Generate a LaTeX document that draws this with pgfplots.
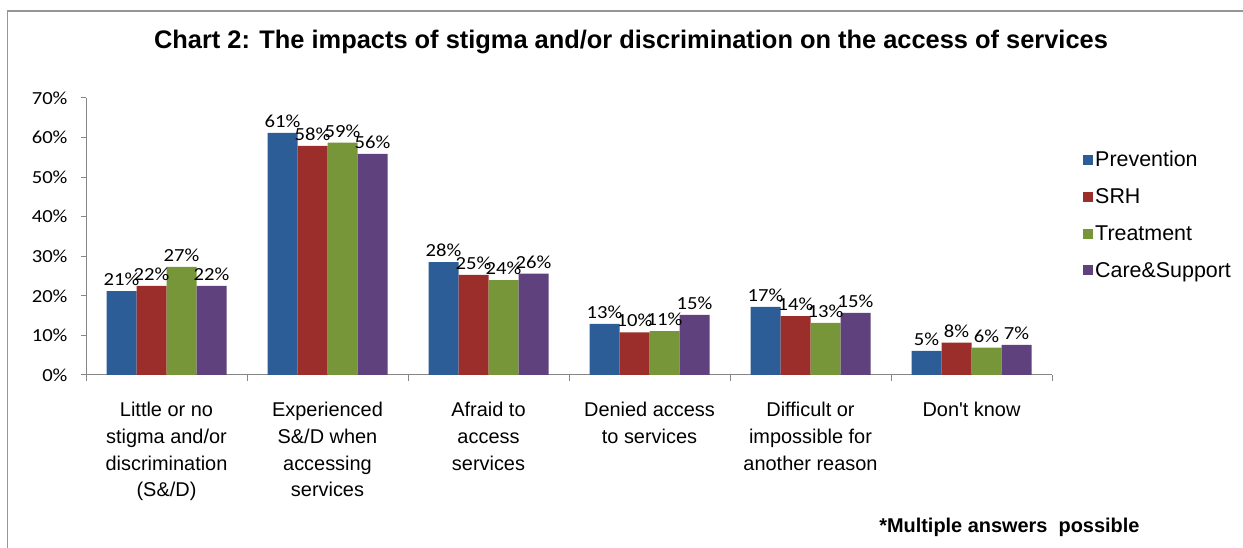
\documentclass[border=0pt]{standalone}
\usepackage{fontspec}
\setmainfont{Liberation Sans}
\newfontfamily\lblfont{Carlito}[FakeStretch=1.12]
\usepackage{pgfplots}
\pgfplotsset{compat=1.18}

\definecolor{cPrev}{RGB}{45,93,151}
\definecolor{cSRH}{RGB}{155,45,42}
\definecolor{cTreat}{RGB}{119,150,58}
\definecolor{cCare}{RGB}{94,65,125}
\definecolor{axgray}{RGB}{134,134,134}
\definecolor{framegray}{RGB}{150,150,150}

\begin{document}
\begin{tikzpicture}[x=1bp,y=1bp]
\path[use as bounding box] (0,0) rectangle (1243,548);
\draw[framegray, line width=1.2bp] (7.5,0) -- (7.5,537) -- (1243,537);
\node[font=\bfseries\fontsize{25.5}{30}\selectfont] at (631,506)
  {Chart 2: The impacts of stigma and/or discrimination on the access of services};
\node[anchor=east, font=\bfseries\fontsize{20}{24}\selectfont] at (1143,21)
  {*Multiple answers\ \ possible};

\begin{axis}[
    at={(86bp,173bp)}, anchor=south west,
    scale only axis,
    width=966bp, height=277bp,
    ybar=0pt, bar width=30bp,
    xmin=-0.5, xmax=5.5,
    ymin=0, ymax=70,
    axis lines=left,
    axis line style={-, draw=axgray, line width=1bp},
    tick align=outside,
    tick style={axgray, line width=1bp},
    major tick length=5bp,
    minor tick length=6bp,
    xtick={0,...,5},
    every major x tick/.append style={draw=none},
    minor xtick={-0.5,0.5,...,5.5},
    xticklabels={
      {Little or no\\stigma and/or\\discrimination\\(S\&/D)},
      {Experienced\\S\&/D when\\accessing\\services},
      {Afraid to\\access\\services},
      {Denied access\\to services},
      {Difficult or\\impossible for\\another reason},
      {Don\textquotesingle t know}},
    xticklabel style={align=center, anchor=north, yshift=-19bp,
      font=\fontsize{20}{26.7}\selectfont},
    ytick={0,10,...,70},
    yticklabels={0\%,10\%,20\%,30\%,40\%,50\%,60\%,70\%},
    yticklabel style={font=\lblfont\fontsize{18.5}{21}\selectfont, xshift=-10bp},
    nodes near coords,
    point meta=explicit symbolic,
    every node near coord/.append style={font=\lblfont\fontsize{18.5}{21}\selectfont,
      anchor=south, inner sep=2bp, yshift=3bp},
    legend style={at={(1.029,0.578)}, anchor=west, draw=none,
      font=\fontsize{21.5}{25}\selectfont, row sep=16.4bp},
    legend cell align=left,
    legend image code/.code={\fill[#1,draw=none] (0bp,-5bp) rectangle (10bp,5bp);},
]
\addplot[fill=cPrev, draw=none] coordinates {
  (0,21.2) [21\%] (1,61.2) [61\%] (2,28.5) [28\%]
  (3,12.9) [13\%] (4,17.2) [17\%] (5,6.1) [5\%]};
\addplot[fill=cSRH, draw=none] coordinates {
  (0,22.5) [22\%] (1,57.9) [58\%] (2,25.3) [25\%]
  (3,10.8) [10\%] (4,14.9) [14\%] (5,8.2) [8\%]};
\addplot[fill=cTreat, draw=none] coordinates {
  (0,27.3) [27\%] (1,58.7) [59\%] (2,24.0) [24\%]
  (3,11.1) [11\%] (4,13.2) [13\%] (5,6.9) [6\%]};
\addplot[fill=cCare, draw=none] coordinates {
  (0,22.5) [22\%] (1,55.9) [56\%] (2,25.6) [26\%]
  (3,15.2) [15\%] (4,15.7) [15\%] (5,7.6) [7\%]};
\legend{Prevention,SRH,Treatment,Care\&Support}
\end{axis}
\end{tikzpicture}
\end{document}
